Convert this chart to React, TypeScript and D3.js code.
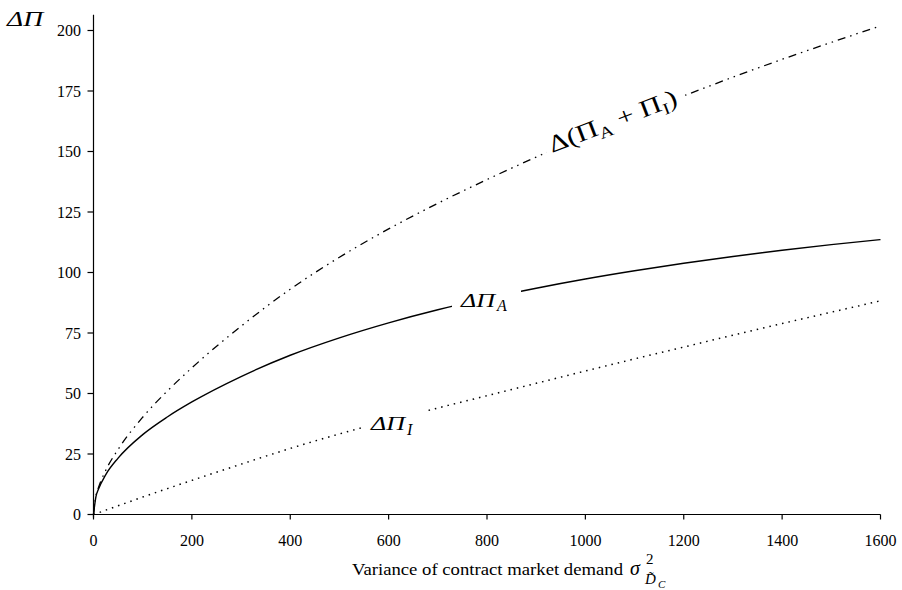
import React from "react";
import * as d3 from "d3";

// Variance of contract market demand (x)
const varianceX = [0, 5, 10, 25, 50, 100, 150, 200, 300, 400, 500, 600, 700, 800, 900, 1000, 1100, 1200, 1300, 1400, 1500, 1600];
// ΔΠ_A (solid)
const deltaPiA = [0, 7.4, 10.4, 16.5, 23.3, 33, 40.3, 46.5, 57, 65.8, 73, 79.2, 84.6, 89.3, 93.5, 97.3, 100.7, 103.8, 106.6, 109.2, 111.5, 113.6];
// ΔΠ_I (dotted)
const deltaPiI = [0, 0.4, 0.7, 1.8, 3.6, 7.2, 10.7, 14.1, 20.8, 27.3, 33.3, 38.8, 44, 49.1, 54.2, 59.3, 64.3, 69.2, 74.1, 78.9, 83.6, 88.3];
// Δ(Π_A + Π_I) (dash-dot)
const deltaPiSum = [0, 7.8, 11.1, 18.3, 26.9, 40.2, 51, 60.6, 77.8, 93.1, 106.3, 118, 128.6, 138.4, 147.7, 156.6, 165, 173, 180.7, 188.1, 195.1, 201.9];

const xTicks = [0, 200, 400, 600, 800, 1000, 1200, 1400, 1600];
const yTicks = [0, 25, 50, 75, 100, 125, 150, 175, 200];

const W = 902;
const H = 590;
const FONT = "'Liberation Serif', 'Times New Roman', serif";

export default function App() {
  const x = d3.scaleLinear().domain([0, 1600]).range([93.5, 880.5]);
  const y = d3.scaleLinear().domain([0, 200]).range([514.5, 30.5]);

  const mk = (vals: number[]) =>
    d3
      .line<number>()
      .x((_, i) => x(varianceX[i]))
      .y((d) => y(d))
      .curve(d3.curveMonotoneX)(vals) || "";

  const x0 = x(0);
  const yb = y(0);

  return (
    <svg
      width={W}
      height={H}
      viewBox={`0 0 ${W} ${H}`}
      style={{ position: "absolute", left: 0, top: 0, background: "#fff" }}
      fontFamily={FONT}
    >
      <rect x={0} y={0} width={W} height={H} fill="#fff" />

      {/* series */}
      <path d={mk(deltaPiSum)} fill="none" stroke="#000" strokeWidth={1.3} strokeDasharray="8 5 1.5 5 1.5 5" />
      <path d={mk(deltaPiA)} fill="none" stroke="#000" strokeWidth={1.4} />
      <path d={mk(deltaPiI)} fill="none" stroke="#000" strokeWidth={1.5} strokeDasharray="1.5 5" />

      {/* axes */}
      <line x1={x0} x2={x0} y1={y(206.5)} y2={yb + 3} stroke="#000" strokeWidth={1.2} />
      <line x1={x0 - 5} x2={x(1600)} y1={yb} y2={yb} stroke="#000" strokeWidth={1.2} />
      {yTicks.map((t) => (
        <g key={"y" + t}>
          <line x1={x0 - 6} x2={x0} y1={y(t)} y2={y(t)} stroke="#000" strokeWidth={1.2} />
          <text x={x0 - 12.5} y={y(t)} dy="0.35em" textAnchor="end" fontSize={16} fill="#000">
            {t}
          </text>
        </g>
      ))}
      {xTicks.map((t) => (
        <g key={"x" + t}>
          <line x1={x(t)} x2={x(t)} y1={yb} y2={yb + 5} stroke="#000" strokeWidth={1.2} />
          <text x={x(t)} y={545.5} textAnchor="middle" fontSize={16} fill="#000">
            {t}
          </text>
        </g>
      ))}

      {/* axis titles */}
      <text x={7} y={25.5} fontSize={20} fontStyle="italic" textLength={36} lengthAdjust="spacingAndGlyphs">
        ΔΠ
      </text>
      <text x={352} y={575} fontSize={17} textLength={271} lengthAdjust="spacingAndGlyphs">
        Variance of contract market demand
      </text>
      <text x={630} y={575} fontSize={20} fontStyle="italic">σ</text>
      <text x={646} y={564} fontSize={15}>2</text>
      <text x={645} y={584} fontSize={15} fontStyle="italic">{"D\u0303"}</text>
      <text x={658} y={588} fontSize={11} fontStyle="italic">C</text>

      {/* curve labels */}
      <rect x={452} y={288} width={69} height={28} fill="#fff" />
      <text x={461} y={306.7} fontSize={18} fontStyle="italic" textLength={34} lengthAdjust="spacingAndGlyphs">
        ΔΠ
      </text>
      <text x={497} y={311} fontSize={16} fontStyle="italic">A</text>

      <rect x={361} y={404} width={63} height={38} fill="#fff" />
      <text x={371} y={430} fontSize={18} fontStyle="italic" textLength={34} lengthAdjust="spacingAndGlyphs">
        ΔΠ
      </text>
      <text x={407} y={435} fontSize={16} fontStyle="italic">I</text>

      <g transform="translate(552,153) rotate(-21)">
        <rect x={-5} y={-26} width={150} height={36} fill="#fff" />
        <text x={0} y={0} fontSize={24} textLength={136} lengthAdjust="spacingAndGlyphs">
          Δ(Π<tspan fontSize={16} dy={5}>A</tspan>
          <tspan dy={-5}> + Π</tspan>
          <tspan fontSize={16} dy={5}>I</tspan>
          <tspan dy={-5}>)</tspan>
        </text>
      </g>
    </svg>
  );
}
